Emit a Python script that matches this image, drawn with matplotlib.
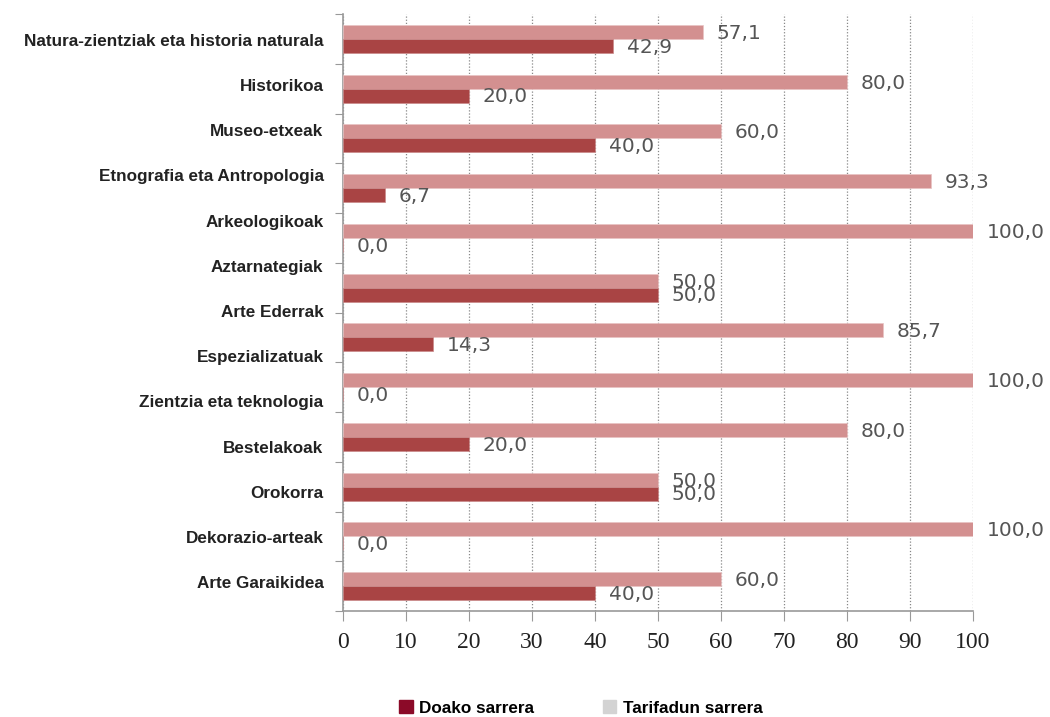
import matplotlib
matplotlib.use('Agg')
import matplotlib.pyplot as plt
import numpy as np
from matplotlib.patches import Patch

# categories as printed on the axis (13 labels, only 12 bar groups in the source)
categories = [
    'Natura-zientziak eta historia naturala',
    'Historikoa',
    'Museo-etxeak',
    'Etnografia eta Antropologia',
    'Arkeologikoak',
    'Aztarnategiak',
    'Arte Ederrak',
    'Espezializatuak',
    'Zientzia eta teknologia',
    'Bestelakoak',
    'Orokorra',
    'Dekorazio-arteak',
    'Arte Garaikidea',
]
tarifadun = [57.1, 80.0, 60.0, 93.3, 100.0, 50.0, 85.7, 100.0, 80.0, 50.0, 100.0, 60.0]
doako = [42.9, 20.0, 40.0, 6.7, 0.0, 50.0, 14.3, 0.0, 20.0, 50.0, 0.0, 40.0]
xticks = [0, 10, 20, 30, 40, 50, 60, 70, 80, 90, 100]

light = '#d39090'
dark = '#a94444'
label_font = ['Liberation Sans', 'DejaVu Sans']

fig = plt.figure(figsize=(10.5, 7.17), dpi=100)
ax = fig.add_axes([343 / 1050, 1 - 611 / 717, 630 / 1050, 597 / 717])

n = len(tarifadun)
y = np.arange(n)
h = 0.28
ax.barh(y - h / 2, tarifadun, height=h, color=light, edgecolor='#e8c4c4', linewidth=0.5, zorder=3)
ax.barh(y + h / 2, doako, height=h, color=dark, edgecolor='#c98a8a', linewidth=0.5, zorder=3)

for yi, v in zip(y, tarifadun):
    ax.annotate(f'{v:.1f}'.replace('.', ','), (v, yi - h / 2), xytext=(10, -1),
                textcoords='offset points', va='center', ha='left',
                fontsize=14.5, color='#555555', family='DejaVu Sans')
for yi, v in zip(y, doako):
    ax.annotate(f'{v:.1f}'.replace('.', ','), (v, yi + h / 2), xytext=(10, -1),
                textcoords='offset points', va='center', ha='left',
                fontsize=14.5, color='#555555', family='DejaVu Sans')

ax.set_xlim(0, 100)
ax.set_ylim(n - 0.5, -0.5)

# tick marks sit on group boundaries, labels are spread evenly
ax.set_yticks(np.arange(n + 1) - 0.5)
ax.set_yticklabels([])
ax.set_yticks(np.linspace(0.02, 10.92, len(categories)), minor=True)
ax.set_yticklabels(categories, minor=True, fontsize=12.3, fontweight='bold',
                   color='#222222', family=label_font)
ax.tick_params(axis='y', which='major', length=6, color='#999999', direction='out')
ax.tick_params(axis='y', which='minor', length=0, pad=14)

ax.set_xticks(xticks)
ax.set_xticklabels([str(t) for t in xticks], fontsize=17, family='Liberation Serif', color='#222222')
ax.tick_params(axis='x', length=7, color='#999999', direction='out', pad=8)

ax.grid(axis='x', linestyle=(0, (1, 1.5)), color='#888888', linewidth=0.9, zorder=0)
for s in ['top', 'right']:
    ax.spines[s].set_visible(False)
for s in ['left', 'bottom']:
    ax.spines[s].set_color('#999999')
    ax.spines[s].set_linewidth(1.2)

handles = [Patch(color='#8b0a28', label='Doako sarrera'),
           Patch(color='#d3d3d3', label='Tarifadun sarrera')]
fig.legend(handles=handles, loc='center', bbox_to_anchor=(581 / 1050, 1 - 708 / 717),
           ncol=2, frameon=False, handlelength=0.8, handleheight=0.8, columnspacing=4.0,
           handletextpad=0.4, prop={'family': label_font, 'weight': 'bold', 'size': 12.3})

fig.savefig('out.png', dpi=100)
